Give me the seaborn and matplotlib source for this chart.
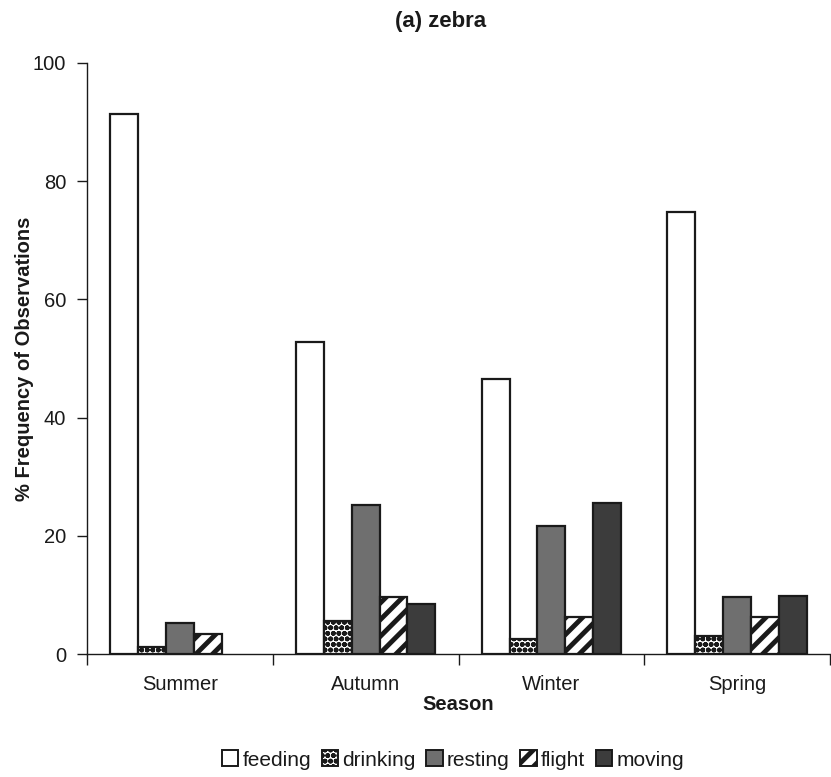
import matplotlib
matplotlib.use("Agg")
import matplotlib.pyplot as plt
import seaborn as sns
import pandas as pd
from matplotlib.patches import Patch

seasons = ["Summer", "Autumn", "Winter", "Spring"]
behaviours = ["feeding", "drinking", "resting", "flight", "moving"]
feeding = [91.4, 52.8, 46.5, 74.8]
drinking = [1.2, 5.6, 2.5, 3.0]
resting = [5.2, 25.2, 21.7, 9.6]
flight = [3.4, 9.6, 6.3, 6.3]
moving = [0.0, 8.4, 25.5, 9.8]

values = {"feeding": feeding, "drinking": drinking, "resting": resting,
          "flight": flight, "moving": moving}
rows = []
for b in behaviours:
    for s, v in zip(seasons, values[b]):
        rows.append({"Season": s, "Behaviour": b, "Value": v})
df = pd.DataFrame(rows)

sns.set_theme(style="ticks")
plt.rcParams["font.family"] = ["Liberation Sans", "DejaVu Sans"]
plt.rcParams["text.color"] = "#1a1a1a"
plt.rcParams["xtick.color"] = "#1a1a1a"
plt.rcParams["ytick.color"] = "#1a1a1a"
plt.rcParams["axes.labelcolor"] = "#1a1a1a"

styles = {
    "feeding": dict(facecolor="white", hatch=None, hlw=1.0),
    "drinking": dict(facecolor="white", hatch="ooo", hlw=1.8),
    "resting": dict(facecolor="#6f6f6f", hatch=None, hlw=1.0),
    "flight": dict(facecolor="white", hatch="//", hlw=3.5),
    "moving": dict(facecolor="#3c3c3c", hatch=None, hlw=1.0),
}


def apply_style(patch, b):
    st = styles[b]
    patch.set_facecolor(st["facecolor"])
    patch.set_edgecolor("#1a1a1a")
    if st["hatch"]:
        patch.set_hatch(st["hatch"])
        if hasattr(patch, "set_hatch_linewidth"):
            patch.set_hatch_linewidth(st["hlw"])
        else:
            patch._hatch_linewidth = st["hlw"]


fig = plt.figure(figsize=(8.31, 7.77), dpi=100)
ax = fig.add_axes([87 / 831, 1 - 654 / 777, 743 / 831, (654 - 63) / 777])

sns.barplot(data=df, x="Season", y="Value", hue="Behaviour", order=seasons,
            hue_order=behaviours, width=0.75, ax=ax, legend=False,
            edgecolor="black", linewidth=1.6)

for b, container in zip(behaviours, ax.containers):
    for bar in container:
        apply_style(bar, b)
        if bar.get_height() == 0:
            bar.set_linewidth(0)

ax.set_xlim(-0.5, 3.5)
ax.set_ylim(0, 100)
ax.set_yticks([0, 20, 40, 60, 80, 100])
ax.set_xticks(range(4))
ax.set_xticklabels(seasons)
ax.set_xticks([-0.5, 0.5, 1.5, 2.5, 3.5], minor=True)
ax.tick_params(axis="x", which="major", length=0, labelsize=14.5, pad=15)
ax.tick_params(axis="x", which="minor", length=8, width=1, direction="out")
ax.tick_params(axis="y", length=7, width=1, labelsize=14.5, pad=8)
for side in ["top", "right"]:
    ax.spines[side].set_visible(False)
for side in ["left", "bottom"]:
    ax.spines[side].set_linewidth(1)
    ax.spines[side].set_color("#1a1a1a")

ax.set_xlabel("Season", fontsize=14.5, fontweight="bold", labelpad=1)
ax.set_ylabel("% Frequency of Observations", fontsize=14.5, fontweight="bold",
              labelpad=-1)

fig.text(0.53, 0.972, "(a) zebra", ha="center", va="center",
         fontsize=16, fontweight="bold")

handles = []
for b in behaviours:
    h = Patch(linewidth=1.4, label=b)
    apply_style(h, b)
    handles.append(h)
leg = fig.legend(handles=handles, loc="center", bbox_to_anchor=(0.545, 0.022),
                 ncol=5, frameon=False, fontsize=15, handlelength=0.8,
                 handleheight=0.8, handletextpad=0.2, columnspacing=0.5)
for b, h in zip(behaviours, leg.legend_handles):
    apply_style(h, b)

fig.savefig("out.png", dpi=100)
